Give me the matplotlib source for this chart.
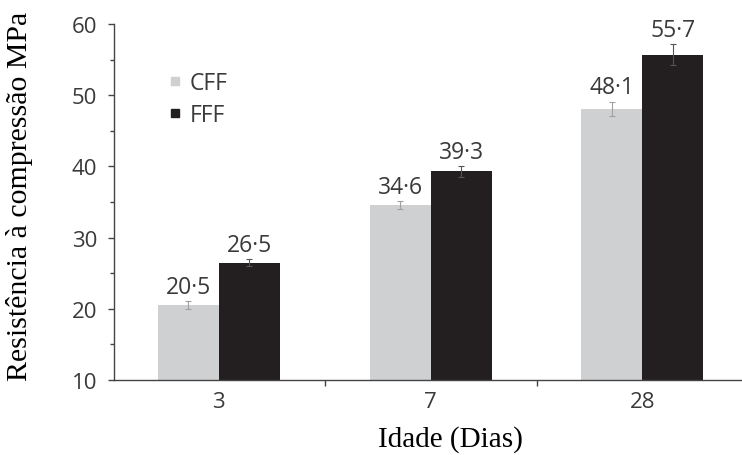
import numpy as np
import matplotlib.pyplot as plt
from matplotlib.lines import Line2D
from matplotlib.ticker import MultipleLocator

# Dados
idades = ['3', '7', '28']
cff = [20.5, 34.6, 48.1]
fff = [26.5, 39.3, 55.7]
cff_err = [0.55, 0.55, 1.0]
fff_err = [0.5, 0.8, 1.5]
rotulos_cff = ['20·5', '34·6', '48·1']
rotulos_fff = ['26·5', '39·3', '55·7']

cor_cinza = '#cfd0d2'
cor_preta = '#231f20'
cor_texto = '#3a3a3a'

plt.rcParams['font.family'] = ['Open Sans', 'DejaVu Sans']

fig = plt.figure(figsize=(7.42, 4.56), dpi=100)
ax = fig.add_axes([114 / 742, 75 / 456, 628 / 742, 356 / 456])

x = np.arange(len(idades))
w = 0.288

ax.bar(x - w / 2, cff, w, color=cor_cinza, zorder=2)
ax.bar(x + w / 2, fff, w, color=cor_preta, zorder=2)
ax.errorbar(x - w / 2, cff, yerr=cff_err, fmt='none', ecolor='#a0a0a0',
            elinewidth=0.8, capsize=2, capthick=0.8, zorder=3)
ax.errorbar(x + w / 2, fff, yerr=fff_err, fmt='none', ecolor='#555555',
            elinewidth=0.8, capsize=2, capthick=0.8, zorder=3)

for xi, v, e, t in zip(x - w / 2, cff, cff_err, rotulos_cff):
    ax.text(xi, v + e + 0.3, t, ha='center', va='bottom', fontsize=16.5, color=cor_texto)
for xi, v, e, t in zip(x + w / 2, fff, fff_err, rotulos_fff):
    ax.text(xi, v + e + 0.3, t, ha='center', va='bottom', fontsize=16.5, color=cor_texto)

ax.set_ylim(10, 60)
ax.set_xlim(-0.495, 2.47)
ax.yaxis.set_major_locator(MultipleLocator(10))
ax.yaxis.set_minor_locator(MultipleLocator(5))
ax.set_xticks(x)
ax.set_xticklabels(idades)
ax.set_xticks([0.5, 1.5], minor=True)
ax.tick_params(axis='x', which='major', length=0, pad=8, labelsize=16, labelcolor=cor_texto)
ax.tick_params(axis='x', which='minor', length=4, direction='out', width=1, color='#444444')
ax.tick_params(axis='y', which='major', length=4, width=1, labelsize=16, labelcolor=cor_texto,
               color='#444444', pad=8)
ax.tick_params(axis='y', which='minor', length=3, width=1, color='#444444')

for s in ['top', 'right']:
    ax.spines[s].set_visible(False)
for s in ['left', 'bottom']:
    ax.spines[s].set_color('#444444')
    ax.spines[s].set_linewidth(1)

handles = [Line2D([], [], ls='none', marker='s', ms=6, color=cor_cinza),
           Line2D([], [], ls='none', marker='s', ms=6, color=cor_preta)]
ax.legend(handles, ['CFF', 'FFF'], loc='upper left', bbox_to_anchor=(0.07, 0.9),
          frameon=False, fontsize=16.5, handlelength=0.5, handletextpad=0.4,
          labelspacing=0.35, labelcolor=cor_texto, borderpad=0)

fig.text(20 / 742, 1 - 196 / 456, 'Resistência à compressão MPa', rotation=90,
         ha='center', va='center', fontsize=21.5, family='Liberation Serif')
fig.text(450 / 742, 1 - 440 / 456, 'Idade (Dias)', ha='center', va='center',
         fontsize=21, family='Liberation Serif')

fig.savefig('out.png', dpi=100)
